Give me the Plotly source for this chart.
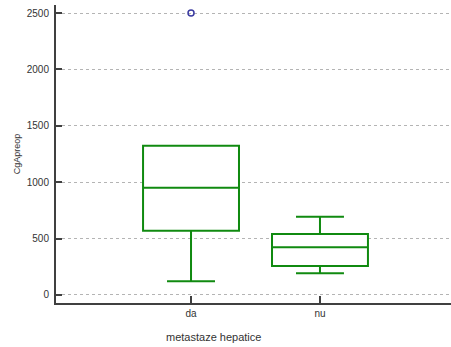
import plotly.graph_objects as go

categories = ["da", "nu"]
q1 = [570, 257]
median = [951, 423]
q3 = [1323, 541]
lowerfence = [121, 192]
upperfence = [1323, 694]
outlier_x = ["da"]
outlier_y = [2500]
y_ticks = [0, 500, 1000, 1500, 2000, 2500]

fig = go.Figure()
fig.add_trace(go.Box(
    x=categories, q1=q1, median=median, q3=q3,
    lowerfence=lowerfence, upperfence=upperfence,
    width=0.744, whiskerwidth=0.5,
    fillcolor="white", line=dict(color="#108a10", width=2),
    boxpoints=False, showlegend=False, hoverinfo="skip",
))
fig.add_trace(go.Scatter(
    x=outlier_x, y=outlier_y, mode="markers",
    marker=dict(symbol="circle-open", size=6, color="#3a3aa0", line=dict(width=1.5)),
    showlegend=False,
))

fig.update_layout(
    width=451, height=347,
    margin=dict(l=56, r=0, t=5, b=44),
    paper_bgcolor="white", plot_bgcolor="white",
    font=dict(family="Liberation Sans, Arial, sans-serif", size=10, color="#333333"),
    xaxis=dict(
        type="category", range=[-1.047, 2.016],
        showline=True, linecolor="#404040", linewidth=2,
        ticks="inside", ticklen=7, tickwidth=2, tickcolor="#404040",
        showgrid=False, zeroline=False,
        tickfont=dict(size=10),
    ),
    yaxis=dict(
        range=[-71, 2571], tickvals=y_ticks,
        showline=True, linecolor="#404040", linewidth=2,
        ticks="inside", ticklen=6, tickwidth=2, tickcolor="#404040",
        showgrid=True, gridcolor="#b4b4b4", gridwidth=1, griddash="3px,3px",
        zeroline=False, ticklabelstandoff=3,
        title=dict(text="CgApreop", font=dict(size=9), standoff=5),
        tickfont=dict(size=10),
    ),
    annotations=[dict(
        text="metastaze hepatice", xref="paper", yref="paper",
        x=(213 - 56) / 395, y=-(337 - 303) / 298, xanchor="center", yanchor="middle",
        showarrow=False, font=dict(size=11, color="#333333"),
    )],
)

fig.write_html("out.html", config={"displayModeBar": False},
               post_script="document.body.style.margin='0';document.body.style.overflow='hidden';")
